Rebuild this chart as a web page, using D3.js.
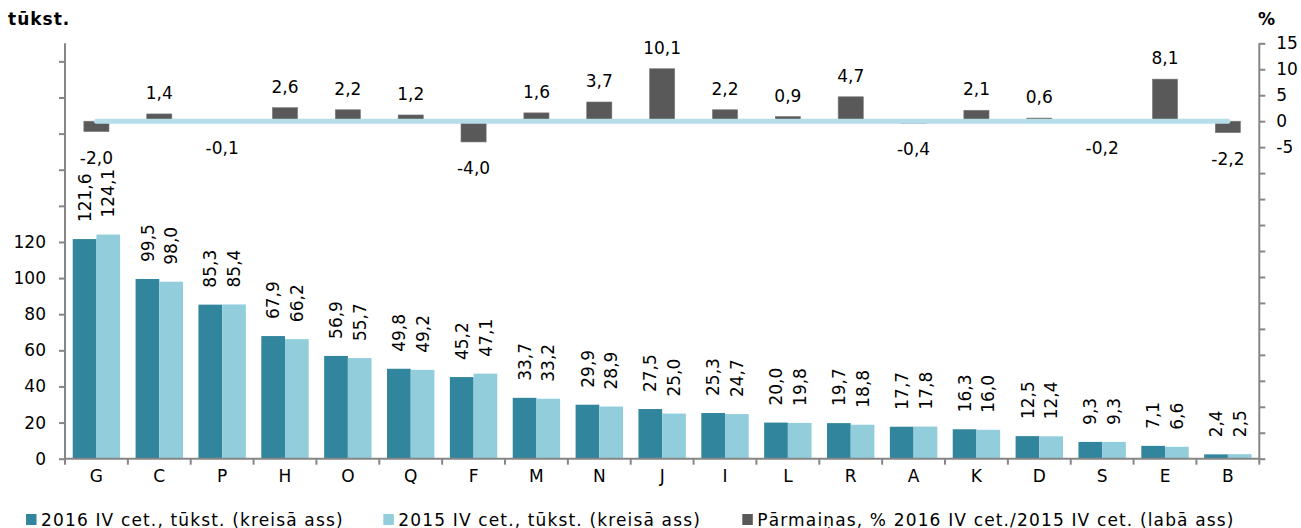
<!DOCTYPE html>
<html><head><meta charset="utf-8">
<script src="https://cdn.jsdelivr.net/npm/d3@7"></script>
<style>
html,body{margin:0;padding:0;background:#fff;}
svg text{font-family:"DejaVu Sans",Verdana,sans-serif;fill:#000;}
</style></head>
<body><svg id="c" width="1301" height="528"></svg>
<script>
const categories = ["G","C","P","H","O","Q","F","M","N","J","I","L","R","A","K","D","S","E","B"];
const values2016 = [121.6,99.5,85.3,67.9,56.9,49.8,45.2,33.7,29.9,27.5,25.3,20.0,19.7,17.7,16.3,12.5,9.3,7.1,2.4];
const values2015 = [124.1,98.0,85.4,66.2,55.7,49.2,47.1,33.2,28.9,25.0,24.7,19.8,18.8,17.8,16.0,12.4,9.3,6.6,2.5];
const changePct = [-2.0,1.4,-0.1,2.6,2.2,1.2,-4.0,1.6,3.7,10.1,2.2,0.9,4.7,-0.4,2.1,0.6,-0.2,8.1,-2.2];
const baseline = [0,0,0,0,0,0,0,0,0,0,0,0,0,0,0,0,0,0,0];
const leftTicks = [0,20,40,60,80,100,120,140,160,180,200,220];
const leftTickLabels = ["0","20","40","60","80","100","120","","","","",""];
const rightTicks = [15,10,5,0,-5,-10,-15,-20,-25,-30,-35,-40,-45,-50,-55,-60,-65];
const rightTickLabels = ["15","10","5","0","-5","","","","","","","","","","","",""];
const seriesNames = ["2016 IV cet., tūkst. (kreisā ass)","2015 IV cet., tūkst. (kreisā ass)","Pārmaiņas, % 2016 IV cet./2015 IV cet. (labā ass)"];
const colors = ["#31859C","#92CDDC","#595959","#B7DEE8"];

const fmt = v => v.toFixed(1).replace(".", ",");
const svg = d3.select("#c");
const L = 65, R = 1259.3, T = 43.3, B = 458.7;

const x = d3.scaleBand().domain(categories).range([L, R]);
const x1 = d3.scaleBand().domain([0,1]).range([0, x.bandwidth()]).paddingOuter(0.326);
const xc = d3.scaleBand().domain(categories).range([L, R]).paddingInner(0.6).paddingOuter(0.3);
const yL = d3.scaleLinear().domain([0, 230]).range([B, T]);
const yR = d3.scaleLinear().domain([-65, 15]).range([B, T]);

// bars
const sets = [values2016, values2015];
sets.forEach((vals, s) => {
  svg.append("g").selectAll("rect").data(vals).join("rect")
    .attr("x", (d,i) => x(categories[i]) + x1(s))
    .attr("width", x1.bandwidth())
    .attr("y", d => yL(d))
    .attr("height", d => B - yL(d))
    .attr("fill", colors[s]);
});

// change bars
svg.append("g").selectAll("rect").data(changePct).join("rect")
  .attr("x", (d,i) => xc(categories[i]))
  .attr("width", xc.bandwidth())
  .attr("y", d => yR(Math.max(0,d)))
  .attr("height", d => Math.abs(yR(d) - yR(0)))
  .attr("fill", colors[2])
  .attr("stroke", "#7a7a7a").attr("stroke-width", 0.6);

// zero line
const line = d3.line().x((d,i) => x(categories[i]) + x.bandwidth()/2).y(d => yR(d));
svg.append("path").datum(baseline).attr("d", line)
  .attr("fill","none").attr("stroke", colors[3]).attr("stroke-width", 5).attr("stroke-linecap","round");

// axes
function styleAxis(g){
  g.selectAll(".domain").remove();
  g.selectAll(".tick line").attr("stroke","#868686").attr("stroke-width",2);
  g.selectAll(".tick text").attr("font-size","17px").attr("font-family","DejaVu Sans").attr("fill","#000");
}
svg.append("g").attr("transform",`translate(${L},0)`)
  .call(d3.axisLeft(yL).tickValues(leftTicks).tickSize(6).tickPadding(13)
    .tickFormat((d,i) => leftTickLabels[i]))
  .call(styleAxis);
svg.append("g").attr("transform",`translate(${R},0)`)
  .call(d3.axisRight(yR).tickValues(rightTicks).tickSize(6).tickPadding(11)
    .tickFormat((d,i) => rightTickLabels[i]))
  .call(styleAxis);
const xAxis = svg.append("g").attr("transform",`translate(0,${B})`)
  .call(d3.axisBottom(x).tickSize(0).tickPadding(10))
  .call(styleAxis);
xAxis.selectAll(".tick text").attr("dy","0.71em").attr("y", 11);
// category boundary ticks
svg.append("g").selectAll("line").data(categories.concat(["_end"])).join("line")
  .attr("x1", (d,i) => i < categories.length ? x(d) : R)
  .attr("x2", (d,i) => i < categories.length ? x(d) : R)
  .attr("y1", B).attr("y2", B + 6)
  .attr("stroke","#868686").attr("stroke-width",2);
// axis lines
svg.append("line").attr("x1",L).attr("x2",L).attr("y1",T).attr("y2",B).attr("stroke","#868686").attr("stroke-width",2);
svg.append("line").attr("x1",R).attr("x2",R).attr("y1",T).attr("y2",B).attr("stroke","#868686").attr("stroke-width",2);
svg.append("line").attr("x1",L-1).attr("x2",R+1).attr("y1",B).attr("y2",B).attr("stroke","#868686").attr("stroke-width",2);

// rotated labels
sets.forEach((vals, s) => {
  svg.append("g").selectAll("text").data(vals).join("text")
    .attr("transform", (d,i) => `translate(${x(categories[i]) + x1(s) + x1.bandwidth()/2},${yL(d) - 17}) rotate(-90)`)
    .attr("dy","0.36em")
    .attr("text-anchor","start")
    .attr("font-size","17px")
    .text(d => fmt(d));
});
// change labels
svg.append("g").selectAll("text").data(changePct).join("text")
  .attr("x", (d,i) => x(categories[i]) + x.bandwidth()/2)
  .attr("y", d => d >= 0 ? yR(d) - 15 : yR(d) + 32)
  .attr("text-anchor","middle")
  .attr("font-size","17px")
  .text(d => fmt(d));

// titles
svg.append("text").attr("x",8).attr("y",25).attr("font-size","17px").attr("font-weight","bold")
  .attr("letter-spacing","1px").text("tūkst.");
svg.append("text").attr("x",1258).attr("y",25).attr("font-size","17px").attr("font-weight","bold").text("%");

// legend
const legX = [26, 383.3, 742.3];
seriesNames.forEach((n, i) => {
  svg.append("rect").attr("x", legX[i]).attr("y", 514).attr("width", 10.5).attr("height", 11).attr("fill", colors[i]);
  svg.append("text").attr("x", legX[i] + 15).attr("y", 525.5).attr("font-size","17px")
    .attr("letter-spacing","1.15px").text(n);
});
</script></body></html>
